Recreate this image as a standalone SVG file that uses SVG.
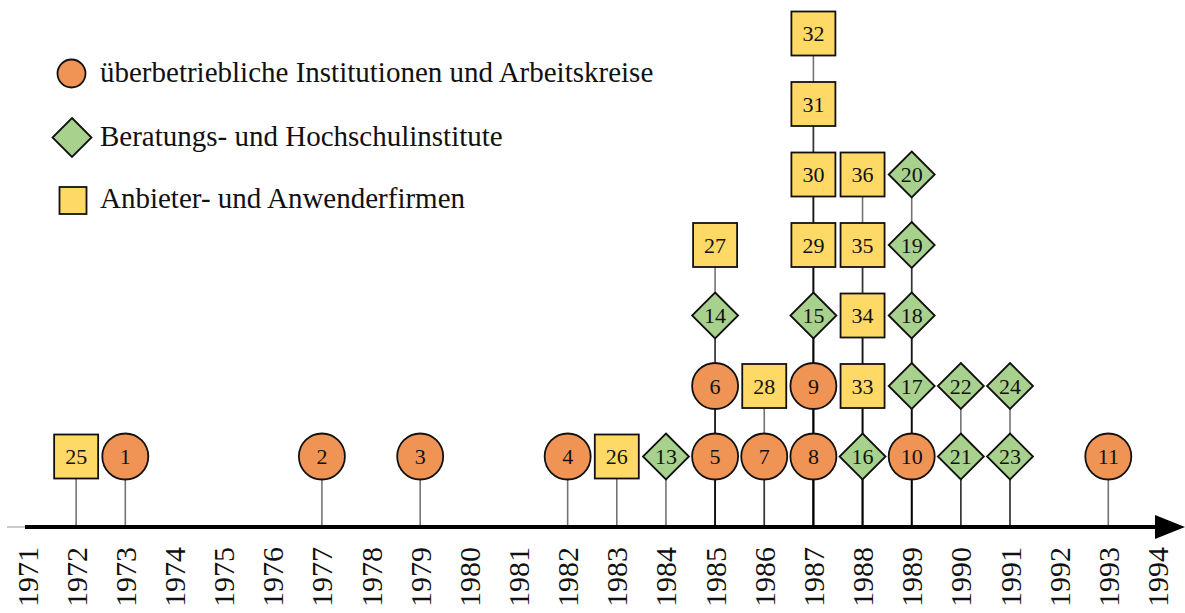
<svg xmlns="http://www.w3.org/2000/svg" width="1185" height="613" viewBox="0 0 1185 613">
  <style>
    .c { fill: #F09456; stroke: #111; stroke-width: 1.8; }
    .d { fill: #A9D18E; stroke: #111; stroke-width: 1.8; }
    .s { fill: #FFD966; stroke: #111; stroke-width: 1.8; }
    .n { font-family: "Liberation Serif", "DejaVu Serif", serif; font-size: 22px; fill: #111; text-anchor: middle; dominant-baseline: central; }
    .yr { font-family: "Liberation Serif", "DejaVu Serif", serif; font-size: 30px; fill: #111; text-anchor: end; dominant-baseline: central; }
    .lg { font-family: "Liberation Serif", "DejaVu Serif", serif; font-size: 29px; fill: #111; }
    .stem { stroke: #000; stroke-opacity: 0.55; stroke-width: 1.6; }
  </style>
  <defs>
    <marker id="arrow" markerWidth="8" markerHeight="6" refX="0" refY="3" orient="auto" markerUnits="strokeWidth">
      <path d="M0,0 L7.5,3 L0,6 Z" fill="#000"/>
    </marker>
  </defs>

  <!-- axis -->
  <g id="axis">
    <line x1="7" y1="527" x2="25" y2="527" stroke="#ccc" stroke-width="2"/>
    <line x1="25" y1="527" x2="1155" y2="527" stroke="#000" stroke-width="4" marker-end="url(#arrow)"/>
  </g>

  <!-- year labels -->
  <g id="years">
    <text class="yr" transform="translate(27,547) rotate(-90)">1971</text>
    <text class="yr" transform="translate(76.15,547) rotate(-90)">1972</text>
    <text class="yr" transform="translate(125.3,547) rotate(-90)">1973</text>
    <text class="yr" transform="translate(174.45,547) rotate(-90)">1974</text>
    <text class="yr" transform="translate(223.6,547) rotate(-90)">1975</text>
    <text class="yr" transform="translate(272.75,547) rotate(-90)">1976</text>
    <text class="yr" transform="translate(321.9,547) rotate(-90)">1977</text>
    <text class="yr" transform="translate(371.05,547) rotate(-90)">1978</text>
    <text class="yr" transform="translate(420.2,547) rotate(-90)">1979</text>
    <text class="yr" transform="translate(469.35,547) rotate(-90)">1980</text>
    <text class="yr" transform="translate(518.5,547) rotate(-90)">1981</text>
    <text class="yr" transform="translate(567.65,547) rotate(-90)">1982</text>
    <text class="yr" transform="translate(616.8,547) rotate(-90)">1983</text>
    <text class="yr" transform="translate(665.95,547) rotate(-90)">1984</text>
    <text class="yr" transform="translate(715.1,547) rotate(-90)">1985</text>
    <text class="yr" transform="translate(764.25,547) rotate(-90)">1986</text>
    <text class="yr" transform="translate(813.4,547) rotate(-90)">1987</text>
    <text class="yr" transform="translate(862.55,547) rotate(-90)">1988</text>
    <text class="yr" transform="translate(911.7,547) rotate(-90)">1989</text>
    <text class="yr" transform="translate(960.85,547) rotate(-90)">1990</text>
    <text class="yr" transform="translate(1010,547) rotate(-90)">1991</text>
    <text class="yr" transform="translate(1059.15,547) rotate(-90)">1992</text>
    <text class="yr" transform="translate(1108.3,547) rotate(-90)">1993</text>
    <text class="yr" transform="translate(1157.45,547) rotate(-90)">1994</text>
  </g>

  <!-- stems: each node drops a line to the axis -->
  <g id="connectors" class="stem">
    <line x1="76.15" y1="456.5" x2="76.15" y2="527"/>
    <line x1="125.3" y1="456.5" x2="125.3" y2="527"/>
    <line x1="321.9" y1="456.5" x2="321.9" y2="527"/>
    <line x1="420.2" y1="456.5" x2="420.2" y2="527"/>
    <line x1="567.65" y1="456.5" x2="567.65" y2="527"/>
    <line x1="616.8" y1="456.5" x2="616.8" y2="527"/>
    <line x1="665.95" y1="456.5" x2="665.95" y2="527"/>
    <!-- 1985 -->
    <line x1="715.1" y1="456.5" x2="715.1" y2="527"/>
    <line x1="715.1" y1="386" x2="715.1" y2="527"/>
    <line x1="715.1" y1="315.5" x2="715.1" y2="527"/>
    <line x1="715.1" y1="245" x2="715.1" y2="527"/>
    <!-- 1986 -->
    <line x1="764.25" y1="456.5" x2="764.25" y2="527"/>
    <line x1="764.25" y1="386" x2="764.25" y2="527"/>
    <!-- 1987 -->
    <line x1="813.4" y1="456.5" x2="813.4" y2="527"/>
    <line x1="813.4" y1="386" x2="813.4" y2="527"/>
    <line x1="813.4" y1="315.5" x2="813.4" y2="527"/>
    <line x1="813.4" y1="245" x2="813.4" y2="527"/>
    <line x1="813.4" y1="174.5" x2="813.4" y2="527"/>
    <line x1="813.4" y1="104" x2="813.4" y2="527"/>
    <line x1="813.4" y1="33.5" x2="813.4" y2="527"/>
    <!-- 1988 -->
    <line x1="862.55" y1="456.5" x2="862.55" y2="527"/>
    <line x1="862.55" y1="386" x2="862.55" y2="527"/>
    <line x1="862.55" y1="315.5" x2="862.55" y2="527"/>
    <line x1="862.55" y1="245" x2="862.55" y2="527"/>
    <line x1="862.55" y1="174.5" x2="862.55" y2="527"/>
    <!-- 1989 -->
    <line x1="911.7" y1="456.5" x2="911.7" y2="527"/>
    <line x1="911.7" y1="386" x2="911.7" y2="527"/>
    <line x1="911.7" y1="315.5" x2="911.7" y2="527"/>
    <line x1="911.7" y1="245" x2="911.7" y2="527"/>
    <line x1="911.7" y1="174.5" x2="911.7" y2="527"/>
    <!-- 1990 -->
    <line x1="960.85" y1="456.5" x2="960.85" y2="527"/>
    <line x1="960.85" y1="386" x2="960.85" y2="527"/>
    <!-- 1991 -->
    <line x1="1010" y1="456.5" x2="1010" y2="527"/>
    <line x1="1010" y1="386" x2="1010" y2="527"/>
    <!-- 1993 -->
    <line x1="1108.3" y1="456.5" x2="1108.3" y2="527"/>
  </g>

  <!-- nodes -->
  <g id="n25"><rect class="s" x="54.15" y="434.5" width="44" height="44"/><text class="n" x="76.15" y="456.5">25</text></g>
  <g id="n1"><circle class="c" cx="125.3" cy="456.5" r="23"/><text class="n" x="125.3" y="456.5">1</text></g>
  <g id="n2"><circle class="c" cx="321.9" cy="456.5" r="23"/><text class="n" x="321.9" y="456.5">2</text></g>
  <g id="n3"><circle class="c" cx="420.2" cy="456.5" r="23"/><text class="n" x="420.2" y="456.5">3</text></g>
  <g id="n4"><circle class="c" cx="567.65" cy="456.5" r="23"/><text class="n" x="567.65" y="456.5">4</text></g>
  <g id="n26"><rect class="s" x="594.8" y="434.5" width="44" height="44"/><text class="n" x="616.8" y="456.5">26</text></g>
  <g id="n13"><polygon class="d" points="665.95,433.5 688.95,456.5 665.95,479.5 642.95,456.5"/><text class="n" x="665.95" y="456.5">13</text></g>

  <g id="n5"><circle class="c" cx="715.1" cy="456.5" r="23"/><text class="n" x="715.1" y="456.5">5</text></g>
  <g id="n6"><circle class="c" cx="715.1" cy="386" r="23"/><text class="n" x="715.1" y="386">6</text></g>
  <g id="n14"><polygon class="d" points="715.1,292.5 738.1,315.5 715.1,338.5 692.1,315.5"/><text class="n" x="715.1" y="315.5">14</text></g>
  <g id="n27"><rect class="s" x="693.1" y="223" width="44" height="44"/><text class="n" x="715.1" y="245">27</text></g>

  <g id="n7"><circle class="c" cx="764.25" cy="456.5" r="23"/><text class="n" x="764.25" y="456.5">7</text></g>
  <g id="n28"><rect class="s" x="742.25" y="364" width="44" height="44"/><text class="n" x="764.25" y="386">28</text></g>

  <g id="n8"><circle class="c" cx="813.4" cy="456.5" r="23"/><text class="n" x="813.4" y="456.5">8</text></g>
  <g id="n9"><circle class="c" cx="813.4" cy="386" r="23"/><text class="n" x="813.4" y="386">9</text></g>
  <g id="n15"><polygon class="d" points="813.4,292.5 836.4,315.5 813.4,338.5 790.4,315.5"/><text class="n" x="813.4" y="315.5">15</text></g>
  <g id="n29"><rect class="s" x="791.4" y="223" width="44" height="44"/><text class="n" x="813.4" y="245">29</text></g>
  <g id="n30"><rect class="s" x="791.4" y="152.5" width="44" height="44"/><text class="n" x="813.4" y="174.5">30</text></g>
  <g id="n31"><rect class="s" x="791.4" y="82" width="44" height="44"/><text class="n" x="813.4" y="104">31</text></g>
  <g id="n32"><rect class="s" x="791.4" y="11.5" width="44" height="44"/><text class="n" x="813.4" y="33.5">32</text></g>

  <g id="n16"><polygon class="d" points="862.55,433.5 885.55,456.5 862.55,479.5 839.55,456.5"/><text class="n" x="862.55" y="456.5">16</text></g>
  <g id="n33"><rect class="s" x="840.55" y="364" width="44" height="44"/><text class="n" x="862.55" y="386">33</text></g>
  <g id="n34"><rect class="s" x="840.55" y="293.5" width="44" height="44"/><text class="n" x="862.55" y="315.5">34</text></g>
  <g id="n35"><rect class="s" x="840.55" y="223" width="44" height="44"/><text class="n" x="862.55" y="245">35</text></g>
  <g id="n36"><rect class="s" x="840.55" y="152.5" width="44" height="44"/><text class="n" x="862.55" y="174.5">36</text></g>

  <g id="n10"><circle class="c" cx="911.7" cy="456.5" r="23"/><text class="n" x="911.7" y="456.5">10</text></g>
  <g id="n17"><polygon class="d" points="911.7,363 934.7,386 911.7,409 888.7,386"/><text class="n" x="911.7" y="386">17</text></g>
  <g id="n18"><polygon class="d" points="911.7,292.5 934.7,315.5 911.7,338.5 888.7,315.5"/><text class="n" x="911.7" y="315.5">18</text></g>
  <g id="n19"><polygon class="d" points="911.7,222 934.7,245 911.7,268 888.7,245"/><text class="n" x="911.7" y="245">19</text></g>
  <g id="n20"><polygon class="d" points="911.7,151.5 934.7,174.5 911.7,197.5 888.7,174.5"/><text class="n" x="911.7" y="174.5">20</text></g>

  <g id="n21"><polygon class="d" points="960.85,433.5 983.85,456.5 960.85,479.5 937.85,456.5"/><text class="n" x="960.85" y="456.5">21</text></g>
  <g id="n22"><polygon class="d" points="960.85,363 983.85,386 960.85,409 937.85,386"/><text class="n" x="960.85" y="386">22</text></g>

  <g id="n23"><polygon class="d" points="1010,433.5 1033,456.5 1010,479.5 987,456.5"/><text class="n" x="1010" y="456.5">23</text></g>
  <g id="n24"><polygon class="d" points="1010,363 1033,386 1010,409 987,386"/><text class="n" x="1010" y="386">24</text></g>

  <g id="n11"><circle class="c" cx="1108.3" cy="456.5" r="23"/><text class="n" x="1108.3" y="456.5">11</text></g>

  <!-- legend -->
  <g id="legend">
    <circle class="c" cx="71.5" cy="73.5" r="14"/>
    <text class="lg" x="100" y="82">überbetriebliche Institutionen und Arbeitskreise</text>
    <polygon class="d" points="72,118 91.5,137.5 72,157 52.5,137.5"/>
    <text class="lg" x="100" y="146">Beratungs- und Hochschulinstitute</text>
    <rect class="s" x="59.5" y="187" width="27" height="27"/>
    <text class="lg" x="100" y="208">Anbieter- und Anwenderfirmen</text>
  </g>
</svg>
